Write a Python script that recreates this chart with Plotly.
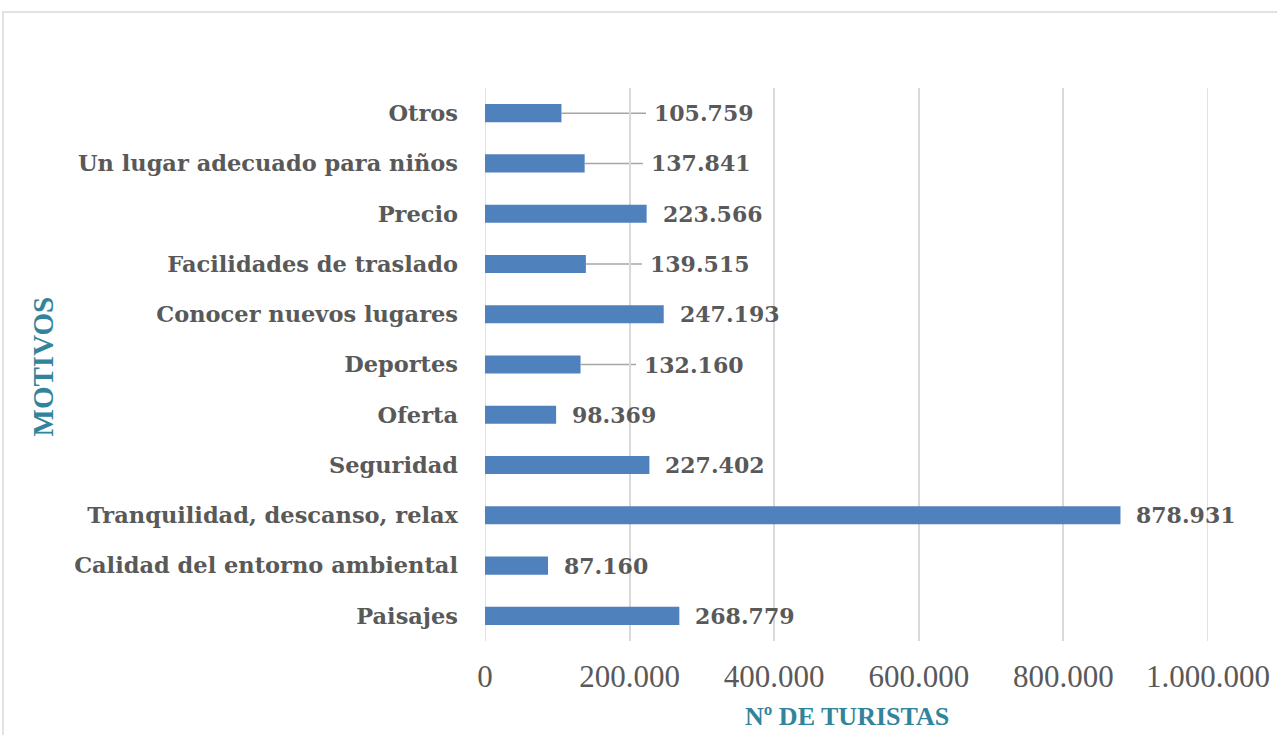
import plotly.graph_objects as go

categories = ["Paisajes", "Calidad del entorno ambiental", "Tranquilidad, descanso, relax",
              "Seguridad", "Oferta", "Deportes", "Conocer nuevos lugares",
              "Facilidades de traslado", "Precio", "Un lugar adecuado para niños", "Otros"]
values = [268779, 87160, 878931, 227402, 98369, 132160, 247193, 139515, 223566, 137841, 105759]
labels = ["268.779", "87.160", "878.931", "227.402", "98.369", "132.160", "247.193",
          "139.515", "223.566", "137.841", "105.759"]
# label anchor in data units for labels dragged away with leader lines (None = default)
label_x = [None, None, None, None, None, 221000, None, 229600, None, 231000, 235000]
line_end = [None, None, None, None, None, 208900, None, 217000, None, 218500, 222700]
tick_vals = [0, 200000, 400000, 600000, 800000, 1000000]
tick_text = ["0", "200.000", "400.000", "600.000", "800.000", "1.000.000"]

GRAY = "#595959"
TEAL = "#31849B"
GRID = "#D9D9D9"

fig = go.Figure()
fig.add_trace(go.Bar(
    y=categories, x=values, orientation="h",
    marker=dict(color="#4F81BD", line=dict(width=0)),
    hoverinfo="x+y",
))

annotations = []
shapes = []
# gridlines at the range edges (plotly omits them)
for tv in (tick_vals[0], tick_vals[-1]):
    shapes.append(dict(type="line", xref="x", yref="paper", x0=tv, x1=tv, y0=0, y1=1,
                       line=dict(color=GRID, width=1.5), layer="below"))

for c, v, lab, lx, le in zip(categories, values, labels, label_x, line_end):
    if lx is None:
        annotations.append(dict(x=v, y=c, xref="x", yref="y", text=lab, showarrow=False,
                                xanchor="left", xshift=14,
                                font=dict(family="DejaVu Serif", size=22, color=GRAY, weight="bold")))
    else:
        annotations.append(dict(x=lx, y=c, xref="x", yref="y", text=lab, showarrow=False,
                                xanchor="left", xshift=-3,
                                font=dict(family="DejaVu Serif", size=22, color=GRAY, weight="bold")))
        shapes.append(dict(type="line", xref="x", yref="y", x0=v, x1=le, y0=c, y1=c,
                           line=dict(color="#A6A6A6", width=1.5), layer="below"))

annotations.append(dict(x=0.5, y=-0.1374, xref="paper", yref="paper", text="Nº DE TURISTAS",
                        showarrow=False, yanchor="middle",
                        font=dict(family="Liberation Serif", size=26, color=TEAL, weight="bold")))
annotations.append(dict(x=-0.611, y=0.497, xref="paper", yref="paper", text="MOTIVOS",
                        showarrow=False, textangle=-90, xanchor="center",
                        font=dict(family="Liberation Serif", size=29, color=TEAL, weight="bold")))

shapes.append(dict(type="rect", xref="paper", yref="paper", x0=-0.6667, x1=2, y0=-1, y1=1.1374,
                   line=dict(color=GRID, width=1.5), fillcolor="rgba(0,0,0,0)", layer="below"))

fig.update_layout(
    width=1277, height=735,
    margin=dict(l=485, r=69, t=88, b=94, autoexpand=False),
    paper_bgcolor="white", plot_bgcolor="white",
    bargap=0.64,
    showlegend=False,
    annotations=annotations,
    shapes=shapes,
    xaxis=dict(range=[0, 1000000], tickvals=tick_vals, ticktext=tick_text,
               showgrid=True, gridcolor=GRID, gridwidth=1.5, zeroline=False,
               showline=False, ticks="", ticklabelstandoff=14, automargin=False,
               tickfont=dict(family="Liberation Serif", size=31, color=GRAY)),
    yaxis=dict(categoryorder="array", categoryarray=categories, range=[-0.5, 10.5],
               showgrid=False, zeroline=False, showline=False, ticks="",
               ticklabelstandoff=26, automargin=False,
               tickfont=dict(family="DejaVu Serif", size=22.5, color=GRAY, weight="bold")),
)

fig.write_html("out.html", config={"displayModeBar": False},
               post_script="document.body.style.margin='0';document.body.style.overflow='hidden';")
